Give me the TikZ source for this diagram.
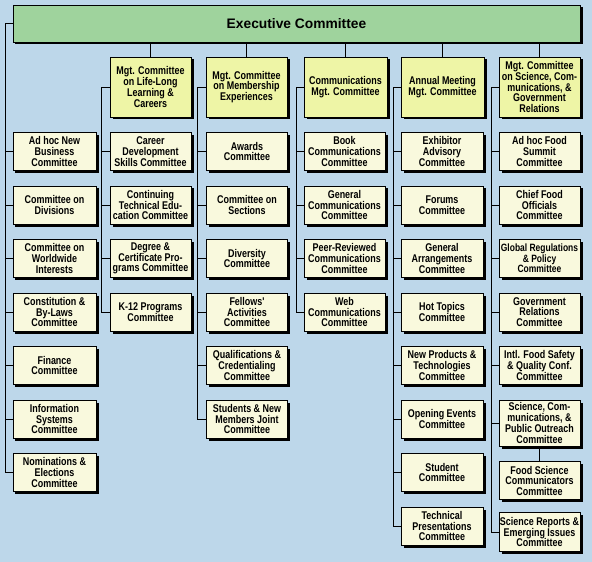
\documentclass[tikz,border=0pt]{standalone}
\usepackage{fontspec}
\newfontfamily\chartfont{Liberation Sans}[FakeStretch=0.8]
\newfontfamily\headfont{Liberation Sans}
\usetikzlibrary{positioning,shadows}
\definecolor{bgblue}{HTML}{BDD7EA}
\definecolor{execgreen}{HTML}{9FD39D}
\definecolor{mgtfill}{HTML}{EEF5A6}
\definecolor{unitfill}{HTML}{F9F9DD}

\begin{document}
\begin{tikzpicture}[x=1bp,y=-1bp,node distance=14.7bp]
\tikzset{unit/.style={draw, line width=0.8bp, fill=unitfill, align=center, inner sep=0.5bp,
    minimum width=81bp, minimum height=38bp,
    font=\chartfont\bfseries\fontsize{11.2bp}{10.7bp}\selectfont,
    drop shadow={shadow xshift=2.5bp, shadow yshift=-2.5bp, opacity=1, fill=black}}}
\tikzset{mgt/.style={unit, fill=mgtfill, minimum height=60bp}}
\tikzset{link/.style={line width=0.8bp}}
\fill[bgblue] (0,0) rectangle (592,562);
\useasboundingbox (0,0) rectangle (592,562);
\node[unit, fill=execgreen, minimum width=567bp, minimum height=37bp,
  font=\headfont\bfseries\fontsize{13.8bp}{15bp}\selectfont] (exec) at (296.5,23.5) {Executive Committee};
\node[mgt] (mll) at (150.5,87) {Mgt. Committee\\on Life-Long\\Learning \&\\Careers};
\node[mgt] (mme) at (246.5,87) {Mgt. Committee\\on Membership\\Experiences};
\node[mgt, minimum width=83bp] (mcm) at (345.5,87) {Communications\\Mgt. Committee};
\node[mgt, minimum width=83bp] (mam) at (442.5,87) {Annual Meeting\\Mgt. Committee};
\node[mgt] (msc) at (539.5,87) {Mgt. Committee\\on Science, Com-\\munications, \&\\Government\\Relations};
\node[unit, minimum width=83bp] (lt1) at (54.5,151.5) {Ad hoc New\\Business\\Committee};
\node[unit, minimum width=83bp, below=of lt1] (lt2) {Committee on\\Divisions};
\node[unit, minimum width=83bp, below=of lt2] (lt3) {Committee on\\Worldwide\\Interests};
\node[unit, minimum width=83bp, below=of lt3] (lt4) {Constitution \&\\By-Laws\\Committee};
\node[unit, minimum width=83bp, below=of lt4] (lt5) {Finance\\Committee};
\node[unit, minimum width=83bp, below=of lt5] (lt6) {Information\\Systems\\Committee};
\node[unit, minimum width=83bp, below=of lt6] (lt7) {Nominations \&\\Elections\\Committee};
\node[unit] (ll1) at (150.5,151.5) {Career\\Development\\Skills Committee};
\node[unit, below=of ll1] (ll2) {Continuing\\Technical Edu-\\cation Committee};
\node[unit, below=of ll2] (ll3) {Degree \&\\Certificate Pro-\\grams Committee};
\node[unit, below=of ll3] (ll4) {K-12 Programs\\Committee};
\node[unit] (me1) at (247,151.5) {Awards\\Committee};
\node[unit, below=of me1] (me2) {Committee on\\Sections};
\node[unit, below=of me2] (me3) {Diversity\\Committee};
\node[unit, below=of me3] (me4) {Fellows'\\Activities\\Committee};
\node[unit, below=of me4] (me5) {Qualifications \&\\Credentialing\\Committee};
\node[unit, below=of me5] (me6) {Students \& New\\Members Joint\\Committee};
\node[unit] (cm1) at (344.5,151.5) {Book\\Communications\\Committee};
\node[unit, below=of cm1] (cm2) {General\\Communications\\Committee};
\node[unit, below=of cm2] (cm3) {Peer-Reviewed\\Communications\\Committee};
\node[unit, below=of cm3] (cm4) {Web\\Communications\\Committee};
\node[unit, minimum width=82bp] (am1) at (442,151.5) {Exhibitor\\Advisory\\Committee};
\node[unit, minimum width=82bp, below=of am1] (am2) {Forums\\Committee};
\node[unit, minimum width=82bp, below=of am2] (am3) {General\\Arrangements\\Committee};
\node[unit, minimum width=82bp, below=of am3] (am4) {Hot Topics\\Committee};
\node[unit, minimum width=82bp, below=of am4] (am5) {New Products \&\\Technologies\\Committee};
\node[unit, minimum width=82bp, below=of am5] (am6) {Opening Events\\Committee};
\node[unit, minimum width=82bp, below=of am6] (am7) {Student\\Committee};
\node[unit, minimum width=82bp, below=of am7] (am8) {Technical\\Presentations\\Committee};
\node[unit] (sc1) at (539.5,151.5) {Ad hoc Food\\Summit\\Committee};
\node[unit, below=of sc1] (sc2) {Chief Food\\Officials\\Committee};
\node[unit, below=of sc2, font=\chartfont\bfseries\fontsize{10.6bp}{10.7bp}\selectfont] (sc3) {Global Regulations\\\& Policy\\Committee};
\node[unit, below=of sc3] (sc4) {Government\\Relations\\Committee};
\node[unit, below=of sc4] (sc5) {Intl. Food Safety\\\& Quality Conf.\\Committee};
\node[unit, minimum height=46bp, below=of sc5] (sc6) {Science, Com-\\munications, \&\\Public Outreach\\Committee};
\node[unit, below=15bp of sc6] (sc7) {Food Science\\Communicators\\Committee};
\node[unit, minimum height=39bp, below=12bp of sc7] (sc8) {Science Reports \&\\Emerging Issues\\Committee};
\foreach \m in {mll,mme,mcm,mam,msc}
  \draw[link] (\m.north) -- (\m.north |- exec.south);
\foreach \c in {lt1,lt2,lt3,lt4,lt5,lt6,lt7}
  \draw[link] (exec.west) -- ++(-7,0) |- (\c.west);
\foreach \c in {ll1,ll2,ll3,ll4}
  \draw[link] (mll.west) -- ++(-8,0) |- (\c.west);
\foreach \c in {me1,me2,me3,me4,me5,me6}
  \draw[link] (mme.west) -- ++(-8,0) |- (\c.west);
\foreach \c in {cm1,cm2,cm3,cm4}
  \draw[link] (mcm.west) -- ++(-7,0) |- (\c.west);
\foreach \c in {am1,am2,am3,am4,am5,am6,am7,am8}
  \draw[link] (mam.west) -- ++(-7,0) |- (\c.west);
\foreach \c in {sc1,sc2,sc3,sc4,sc5,sc6,sc8}
  \draw[link] (msc.west) -- ++(-7,0) |- (\c.west);
\draw[link] (sc6.south) -- (sc7.north);
\end{tikzpicture}
\end{document}
